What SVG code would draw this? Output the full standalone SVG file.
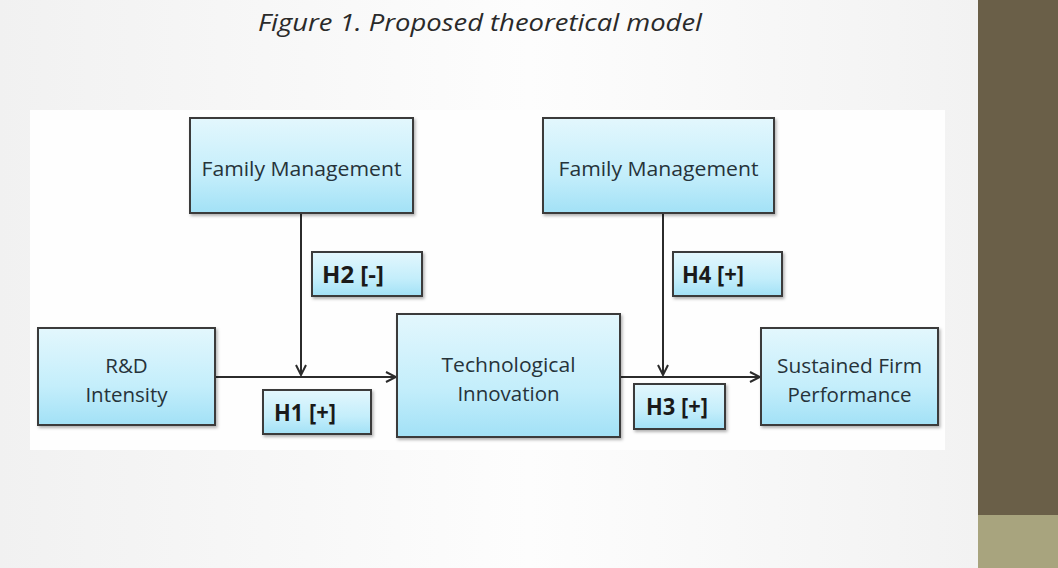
<svg xmlns="http://www.w3.org/2000/svg" width="1058" height="568" viewBox="0 0 1058 568">
<defs>
<linearGradient id="bg" x1="0" y1="0" x2="1" y2="0">
<stop offset="0" stop-color="#f1f1f1"/>
<stop offset="0.5" stop-color="#fdfdfd"/>
<stop offset="1" stop-color="#f0f0f0"/>
</linearGradient>
<linearGradient id="box" x1="0" y1="0" x2="0" y2="1">
<stop offset="0" stop-color="#e3f7fd"/>
<stop offset="0.6" stop-color="#c4eefb"/>
<stop offset="1" stop-color="#a2e1f6"/>
</linearGradient>
<filter id="sh" x="-10%" y="-10%" width="130%" height="130%">
<feDropShadow dx="1.5" dy="2" stdDeviation="1.5" flood-color="#000" flood-opacity="0.3"/>
</filter>
<marker id="ah" viewBox="0 0 12 12" refX="11" refY="6" markerWidth="12" markerHeight="12" markerUnits="userSpaceOnUse" orient="auto">
<path d="M1,1 L11,6 L1,11" fill="none" stroke="#2b2b2b" stroke-width="2"/>
</marker>
<style>
.n{fill:url(#box);stroke:#3b3b3b;stroke-width:2;filter:url(#sh)}
.t{font-family:"Open Sans","Liberation Sans",sans-serif;font-size:20.5px;fill:#26333a;text-anchor:middle}
.h{font-family:"Open Sans","Liberation Sans",sans-serif;font-size:22.5px;font-weight:bold;fill:#1a1a1a;text-anchor:middle}
.c{stroke:#2b2b2b;stroke-width:2;fill:none;marker-end:url(#ah)}
</style>
</defs>
<rect width="1058" height="568" fill="url(#bg)"/>
<rect x="30" y="110" width="915" height="340" fill="#fefefe"/>
<rect x="978" y="0" width="80" height="515" fill="#6a5f48"/>
<rect x="978" y="515" width="80" height="53" fill="#a8a47e"/>
<text x="480" y="31" font-family="'Open Sans','Liberation Sans',sans-serif" font-style="italic" font-size="23" fill="#2a2a2a" text-anchor="middle" textLength="444" lengthAdjust="spacingAndGlyphs">Figure 1. Proposed theoretical model</text>
<g id="connectors">
<line class="c" x1="215" y1="377" x2="396" y2="377"/>
<line class="c" x1="301" y1="213" x2="301" y2="375"/>
<line class="c" x1="620" y1="377" x2="760" y2="377"/>
<line class="c" x1="663" y1="213" x2="663" y2="375"/>
</g>
<g id="fm1"><rect class="n" x="190" y="118" width="223" height="95"/><text class="t" x="301.5" y="176" textLength="200" lengthAdjust="spacingAndGlyphs">Family Management</text></g>
<g id="fm2"><rect class="n" x="543" y="118" width="231" height="95"/><text class="t" x="658.5" y="176" textLength="200" lengthAdjust="spacingAndGlyphs">Family Management</text></g>
<g id="h2"><rect class="n" x="312" y="252" width="110" height="44"/><text class="h" x="353" y="283" textLength="62" lengthAdjust="spacingAndGlyphs">H2 [-]</text></g>
<g id="h4"><rect class="n" x="673" y="252" width="109" height="44"/><text class="h" x="713" y="283" textLength="62" lengthAdjust="spacingAndGlyphs">H4 [+]</text></g>
<g id="rd"><rect class="n" x="38" y="328" width="177" height="97"/><text class="t" x="126.5" y="373">R&amp;D</text><text class="t" x="126.5" y="402">Intensity</text></g>
<g id="ti"><rect class="n" x="397" y="314" width="223" height="123"/><text class="t" x="508.5" y="372" textLength="134" lengthAdjust="spacingAndGlyphs">Technological</text><text class="t" x="508.5" y="401">Innovation</text></g>
<g id="sfp"><rect class="n" x="761" y="328" width="177" height="97"/><text class="t" x="849.5" y="373" textLength="145" lengthAdjust="spacingAndGlyphs">Sustained Firm</text><text class="t" x="849.5" y="402">Performance</text></g>
<g id="h1"><rect class="n" x="263" y="390" width="108" height="44"/><text class="h" x="305" y="421" textLength="62" lengthAdjust="spacingAndGlyphs">H1 [+]</text></g>
<g id="h3"><rect class="n" x="634" y="384" width="91" height="45"/><text class="h" x="677" y="415" textLength="62" lengthAdjust="spacingAndGlyphs">H3 [+]</text></g>
</svg>
